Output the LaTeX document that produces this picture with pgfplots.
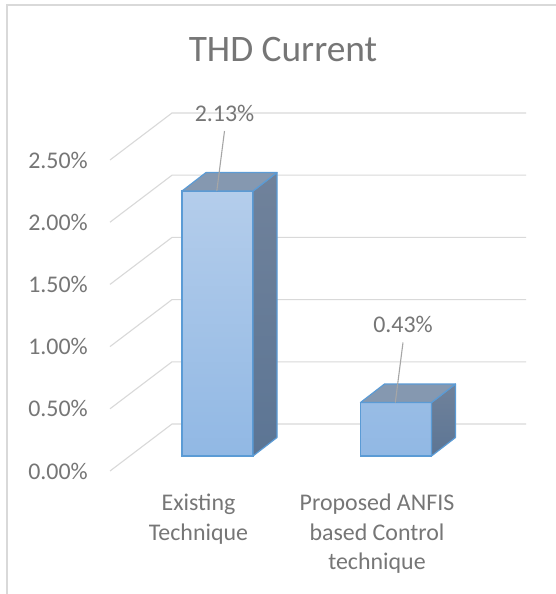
\documentclass[border=0pt]{standalone}
\usepackage{pgfplots}
\usepackage{pgfplotstable}
\pgfplotsset{compat=1.18}
\usepackage{fontspec}
\setmainfont{Carlito}
\definecolor{txt}{RGB}{118,118,118}
\definecolor{gridcol}{RGB}{217,217,217}
\definecolor{bordercol}{RGB}{217,217,217}
\definecolor{edgecol}{RGB}{91,155,213}
\definecolor{fronttop}{RGB}{180,205,235}
\definecolor{frontbot}{RGB}{145,184,228}
\definecolor{sidetop}{RGB}{112,130,155}
\definecolor{sidebot}{RGB}{92,117,148}
\definecolor{topcol}{RGB}{133,152,176}
\definecolor{leadcol}{RGB}{166,166,166}

\pgfplotstableread{
x v
0 2.13
1 0.43
}\thd

\begin{document}
\begin{tikzpicture}
\path[use as bounding box] (0,0) rectangle (556bp,594bp);
\fill[white] (0,0) rectangle (556bp,594bp);
\draw[bordercol, line width=1.3bp] (7bp,0) -- (7bp,589bp) -- (556bp,589bp);
\node[anchor=base, text=txt, font=\fontsize{37.5}{45}\selectfont, inner sep=0pt] at (283bp,532bp) {THD Current};
\begin{axis}[
  at={(217.5bp,138bp)}, anchor=origin,
  x=178.5bp, y=124.4bp,
  xmin=-0.6022, xmax=1.7283, ymin=-0.1206, ymax=2.6,
  axis line style={draw=none}, major tick length=0pt, clip=false,
  xtick={0,1},
  xticklabels={{\strut Existing\\Technique},{\strut Proposed ANFIS\\based Control\\technique}},
  ytick={0,0.5,1,1.5,2,2.5},
  yticklabels={0.00\%,0.50\%,1.00\%,1.50\%,2.00\%,2.50\%},
  tick label style={font=\fontsize{24}{30}\selectfont, text=txt, inner sep=0pt},
  yticklabel style={anchor=east, xshift=-22bp, yshift=-15bp},
  xticklabel style={anchor=north, align=center, xshift=-19bp, yshift=-18bp},
]
\pgfplotsinvokeforeach{0,0.5,1,1.5,2,2.5}{
  \draw[gridcol, line width=1.1bp] (axis cs:-0.6022,#1-0.1206) -- (axis cs:-0.2549,#1+0.2572) -- (axis cs:1.7283,#1+0.2572);
}
% side and top faces of the 3D bars and leader lines
\addplot[only marks, scatter, mark=*, mark size=0pt, mark options={draw=none, fill=none},
  visualization depends on={\thisrow{v} \as \rawv},
  scatter/@pre marker code/.code={%
    \pgfmathsetmacro{\hb}{18.5-\rawv*124.4}%
    \pgfmathsetmacro{\hf}{-\rawv*124.4}%
    \shade[top color=sidetop, bottom color=sidebot, draw=edgecol, line width=1.2bp, line join=round]
      (35.5bp,0bp) -- (59.5bp,18.5bp) -- (59.5bp,\hb bp) -- (35.5bp,\hf bp) -- cycle;
    \filldraw[fill=topcol, draw=edgecol, line width=1.2bp, line join=round]
      (-35.5bp,0bp) -- (35.5bp,0bp) -- (59.5bp,18.5bp) -- (-11.5bp,18.5bp) -- cycle;
    \draw[draw=leadcol, line width=1.1bp] (-0.7bp,0bp) -- (7bp,60bp);
  },
  scatter/@post marker code/.code={},
] table[x=x, y=v] {\thd};
% front faces
\addplot[ybar, bar width=71bp, bar shift=0pt, draw=edgecol, line width=1.2bp, top color=fronttop, bottom color=frontbot]
  table[x=x, y=v] {\thd};
% value labels
\addplot[only marks, mark=none, point meta=\thisrow{v},
  nodes near coords={\pgfmathprintnumber[fixed,fixed zerofill,precision=2,assume math mode=true]{\pgfplotspointmeta}\%},
  nodes near coords style={anchor=center, xshift=7bp, yshift=78bp, font=\fontsize{24}{30}\selectfont, text=txt, inner sep=0pt},
] table[x=x, y=v] {\thd};
\end{axis}
\end{tikzpicture}
\end{document}
